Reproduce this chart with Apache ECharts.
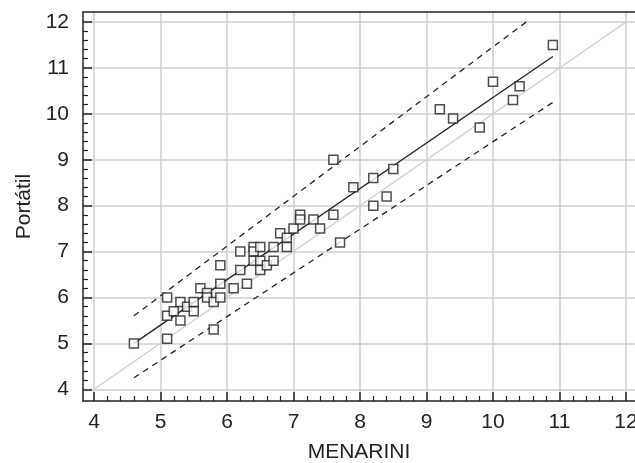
<!DOCTYPE html>
<html>
<head>
<meta charset="utf-8">
<script src="https://cdn.jsdelivr.net/npm/echarts@6/dist/echarts.min.js"></script>
<style>
  html, body { margin: 0; padding: 0; background: #fff; }
  #chart { width: 635px; height: 463px; }
</style>
</head>
<body>
<div id="chart"></div>
<script>
// datos
var menarini = [4.6, 5.1, 5.1, 5.1, 5.2, 5.3, 5.3, 5.4, 5.5, 5.5,
                5.6, 5.7, 5.7, 5.8, 5.8, 5.9, 5.9, 5.9, 6.1, 6.2,
                6.2, 6.3, 6.4, 6.4, 6.4, 6.5, 6.5, 6.5, 6.6, 6.7,
                6.7, 6.8, 6.9, 6.9, 7.0, 7.1, 7.1, 7.3, 7.4, 7.6,
                7.6, 7.7, 7.9, 8.2, 8.2, 8.4, 8.5, 9.2, 9.4, 9.8,
                10.0, 10.3, 10.4, 10.9];
var portatil = [5.0, 6.0, 5.6, 5.1, 5.7, 5.9, 5.5, 5.8, 5.9, 5.7,
                6.2, 6.1, 6.0, 5.9, 5.3, 6.7, 6.3, 6.0, 6.2, 7.0,
                6.6, 6.3, 7.1, 7.0, 6.8, 7.1, 6.8, 6.6, 6.7, 7.1,
                6.8, 7.4, 7.3, 7.1, 7.5, 7.8, 7.7, 7.7, 7.5, 7.8,
                9.0, 7.2, 8.4, 8.6, 8.0, 8.2, 8.8, 10.1, 9.9, 9.7,
                10.7, 10.3, 10.6, 11.5];

// recta de regresion, bandas y diagonal y = x
var regLine = [[4.6, 5.0], [10.9, 11.25]];
var upperBand = [[4.6, 5.6], [10.5, 12.0]];
var lowerBand = [[4.6, 4.25], [10.9, 10.25]];
var identity = [[4, 4], [12, 12]];

// marcas de los ejes
var tickValues = [4, 5, 6, 7, 8, 9, 10, 11, 12];
var minorValues = [];
for (var t = 4; t < 12; t++) {
    for (var k = 1; k < 5; k++) {
        minorValues.push(Math.round((t + k * 0.2) * 10) / 10);
    }
}

var font = 'Liberation Sans, Arial, Helvetica, sans-serif';
var dark = '#222';

var points = menarini.map(function (x, i) {
    return [x, portatil[i]];
});

function mainAxis(min, max, name, gap, labelMargin) {
    return {
        type: 'value',
        min: min,
        max: max,
        splitNumber: 8,
        name: name,
        nameLocation: 'middle',
        nameGap: gap,
        nameTextStyle: {fontFamily: font, fontSize: 21, color: dark},
        axisLine: {show: true, onZero: false, lineStyle: {color: dark, width: 1.5}},
        axisTick: {show: true, inside: true, length: 9, customValues: tickValues,
                   lineStyle: {color: dark, width: 1.5}},
        axisLabel: {customValues: tickValues, margin: labelMargin,
                    fontFamily: font, fontSize: 21, color: dark},
        splitLine: {show: true, lineStyle: {color: '#cfcfcf', width: 1.5}}
    };
}

function minorAxis(min, max, pos) {
    return {
        type: 'value',
        min: min,
        max: max,
        position: pos,
        axisLine: {show: false, onZero: false},
        axisTick: {show: true, inside: true, length: 5, customValues: minorValues,
                   lineStyle: {color: dark, width: 1.2}},
        axisLabel: {show: false},
        splitLine: {show: false}
    };
}

var xMin = 3.835, xMax = 12.135;
var yMin = 3.745, yMax = 12.218;

var xMainAxis = mainAxis(xMin, xMax, 'MENARINI', 41, 11);
xMainAxis.position = 'bottom';
var yMainAxis = mainAxis(yMin, yMax, 'Portátil', 48, 14);
yMainAxis.position = 'left';

var option = {
    animation: false,
    backgroundColor: '#fff',
    grid: {left: 83, top: 12, right: 0, bottom: 62, outerBoundsMode: 'none'},
    xAxis: [
        xMainAxis,
        minorAxis(xMin, xMax, 'bottom'),
        {
            type: 'value', min: xMin, max: xMax, position: 'top',
            axisLine: {show: true, onZero: false, lineStyle: {color: dark, width: 1.5}},
            axisTick: {show: false}, axisLabel: {show: false}, splitLine: {show: false}
        }
    ],
    yAxis: [
        yMainAxis,
        minorAxis(yMin, yMax, 'left')
    ],
    series: [
        {
            type: 'line', data: identity, symbol: 'none', silent: true, z: 1,
            lineStyle: {color: '#cfcfcf', width: 1.3}
        },
        {
            type: 'line', data: upperBand, symbol: 'none', silent: true, z: 2,
            lineStyle: {color: dark, width: 1.3, type: [6, 5]}
        },
        {
            type: 'line', data: lowerBand, symbol: 'none', silent: true, z: 2,
            lineStyle: {color: dark, width: 1.3, type: [6, 5]}
        },
        {
            type: 'line', data: regLine, symbol: 'none', silent: true, z: 2,
            lineStyle: {color: dark, width: 1.3}
        },
        {
            type: 'scatter', data: points, symbol: 'rect', symbolSize: 9, z: 3,
            itemStyle: {color: '#fff', borderColor: dark, borderWidth: 1.5}
        }
    ]
};

var chart = echarts.init(document.getElementById('chart'));
chart.setOption(option);
</script>
</body>
</html>
